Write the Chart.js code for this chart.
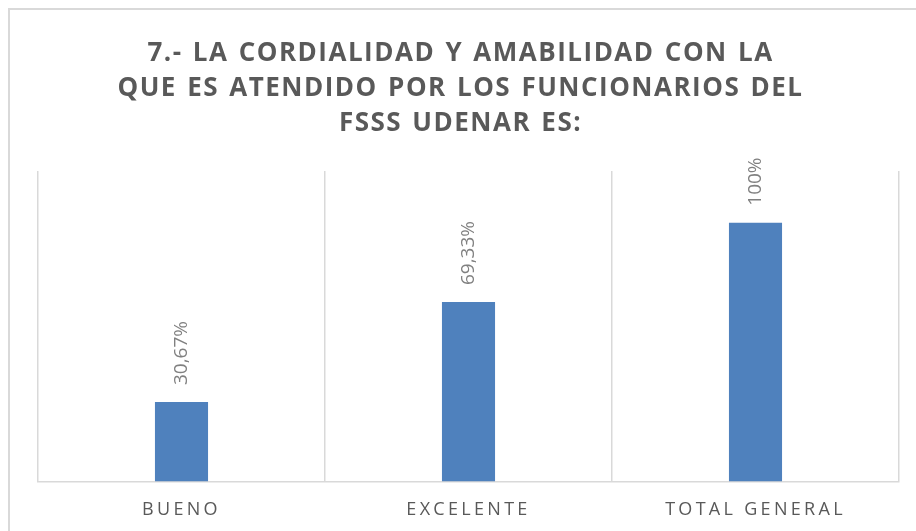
<!DOCTYPE html>
<html>
<head>
<meta charset="utf-8">
<script src="https://cdn.jsdelivr.net/npm/chart.js@4"></script>
<style>
  html, body { margin: 0; padding: 0; background: #fff; overflow: hidden; }
  #frame { position: absolute; left: 8px; top: 8px; width: 1000px; height: 1000px; border: 2px solid #d9d9d9; }
  #wrap { position: absolute; left: 0; top: 0; width: 916px; height: 531px; overflow: hidden; }
</style>
</head>
<body>
<div id="frame"></div>
<div id="wrap"><canvas id="chart" width="916" height="539"></canvas></div>
<script>
// Chart data
const titleLines = ['7.- LA CORDIALIDAD Y AMABILIDAD CON LA', 'QUE ES ATENDIDO POR LOS FUNCIONARIOS DEL', 'FSSS UDENAR ES:'];
const categories = ['BUENO', 'EXCELENTE', 'TOTAL GENERAL'];
const values = [30.67, 69.33, 100];
const valueLabels = ['30,67%', '69,33%', '100%'];

const barColor = '#4f81bd';
const gridColor = '#d9d9d9';

// letter spacing for the title and the category labels (canvas letterSpacing)
const spacingPlugin = {
  id: 'spacing',
  afterUpdate(chart) {
    const x = chart.scales.x;
    if (x && !x._spacedLabels) {
      const orig = x.drawLabels;
      x.drawLabels = function(area) {
        chart.ctx.save();
        chart.ctx.letterSpacing = '3.3px';
        orig.call(this, area);
        chart.ctx.restore();
      };
      x._spacedLabels = true;
    }
    const t = chart.titleBlock;
    if (t && !t._spaced) {
      const origT = t.draw;
      t.draw = function() {
        chart.ctx.save();
        chart.ctx.letterSpacing = '1.5px';
        chart.ctx.wordSpacing = '2px';
        chart.ctx.translate(-8, 0); // title sits a bit left of the plot centre
        origT.call(this);
        chart.ctx.restore();
      };
      t._spaced = true;
    }
  }
};

// rotated value labels above the bars
const valueLabelPlugin = {
  id: 'valueLabels',
  afterDatasetsDraw(chart) {
    const ctx = chart.ctx;
    const meta = chart.getDatasetMeta(0);
    ctx.save();
    ctx.font = '19px "Open Sans"';
    ctx.fillStyle = '#808080';
    ctx.textAlign = 'left';
    ctx.textBaseline = 'middle';
    meta.data.forEach((bar, i) => {
      ctx.save();
      ctx.translate(bar.x, bar.y - 17);
      ctx.rotate(-Math.PI / 2);
      ctx.fillText(valueLabels[i], 0, 0);
      ctx.restore();
    });
    ctx.restore();
  }
};

const ctx = document.getElementById('chart').getContext('2d');
new Chart(ctx, {
  type: 'bar',
  data: {
    labels: categories,
    datasets: [{
      data: values,
      backgroundColor: barColor,
      borderWidth: 0,
      categoryPercentage: 1,
      barPercentage: 0.185
    }]
  },
  options: {
    responsive: false,
    animation: false,
    layout: { padding: { left: 38, right: 17, top: 0, bottom: 0 } },
    scales: {
      x: {
        grid: { display: true, offset: true, color: gridColor, lineWidth: 1.5, drawTicks: false },
        border: { display: true, color: gridColor, width: 1.5 },
        ticks: { color: '#595959', font: { family: 'Open Sans', size: 18 }, padding: 18 }
      },
      y: {
        display: false,
        min: 0,
        max: 120
      }
    },
    plugins: {
      legend: { display: false },
      tooltip: { enabled: false },
      title: {
        display: true,
        text: titleLines,
        color: '#595959',
        font: { family: 'Open Sans', size: 26, weight: 'bold', lineHeight: 1.346 },
        padding: { top: 36.5, bottom: 29.5 }
      }
    }
  },
  plugins: [spacingPlugin, valueLabelPlugin]
});
</script>
</body>
</html>
